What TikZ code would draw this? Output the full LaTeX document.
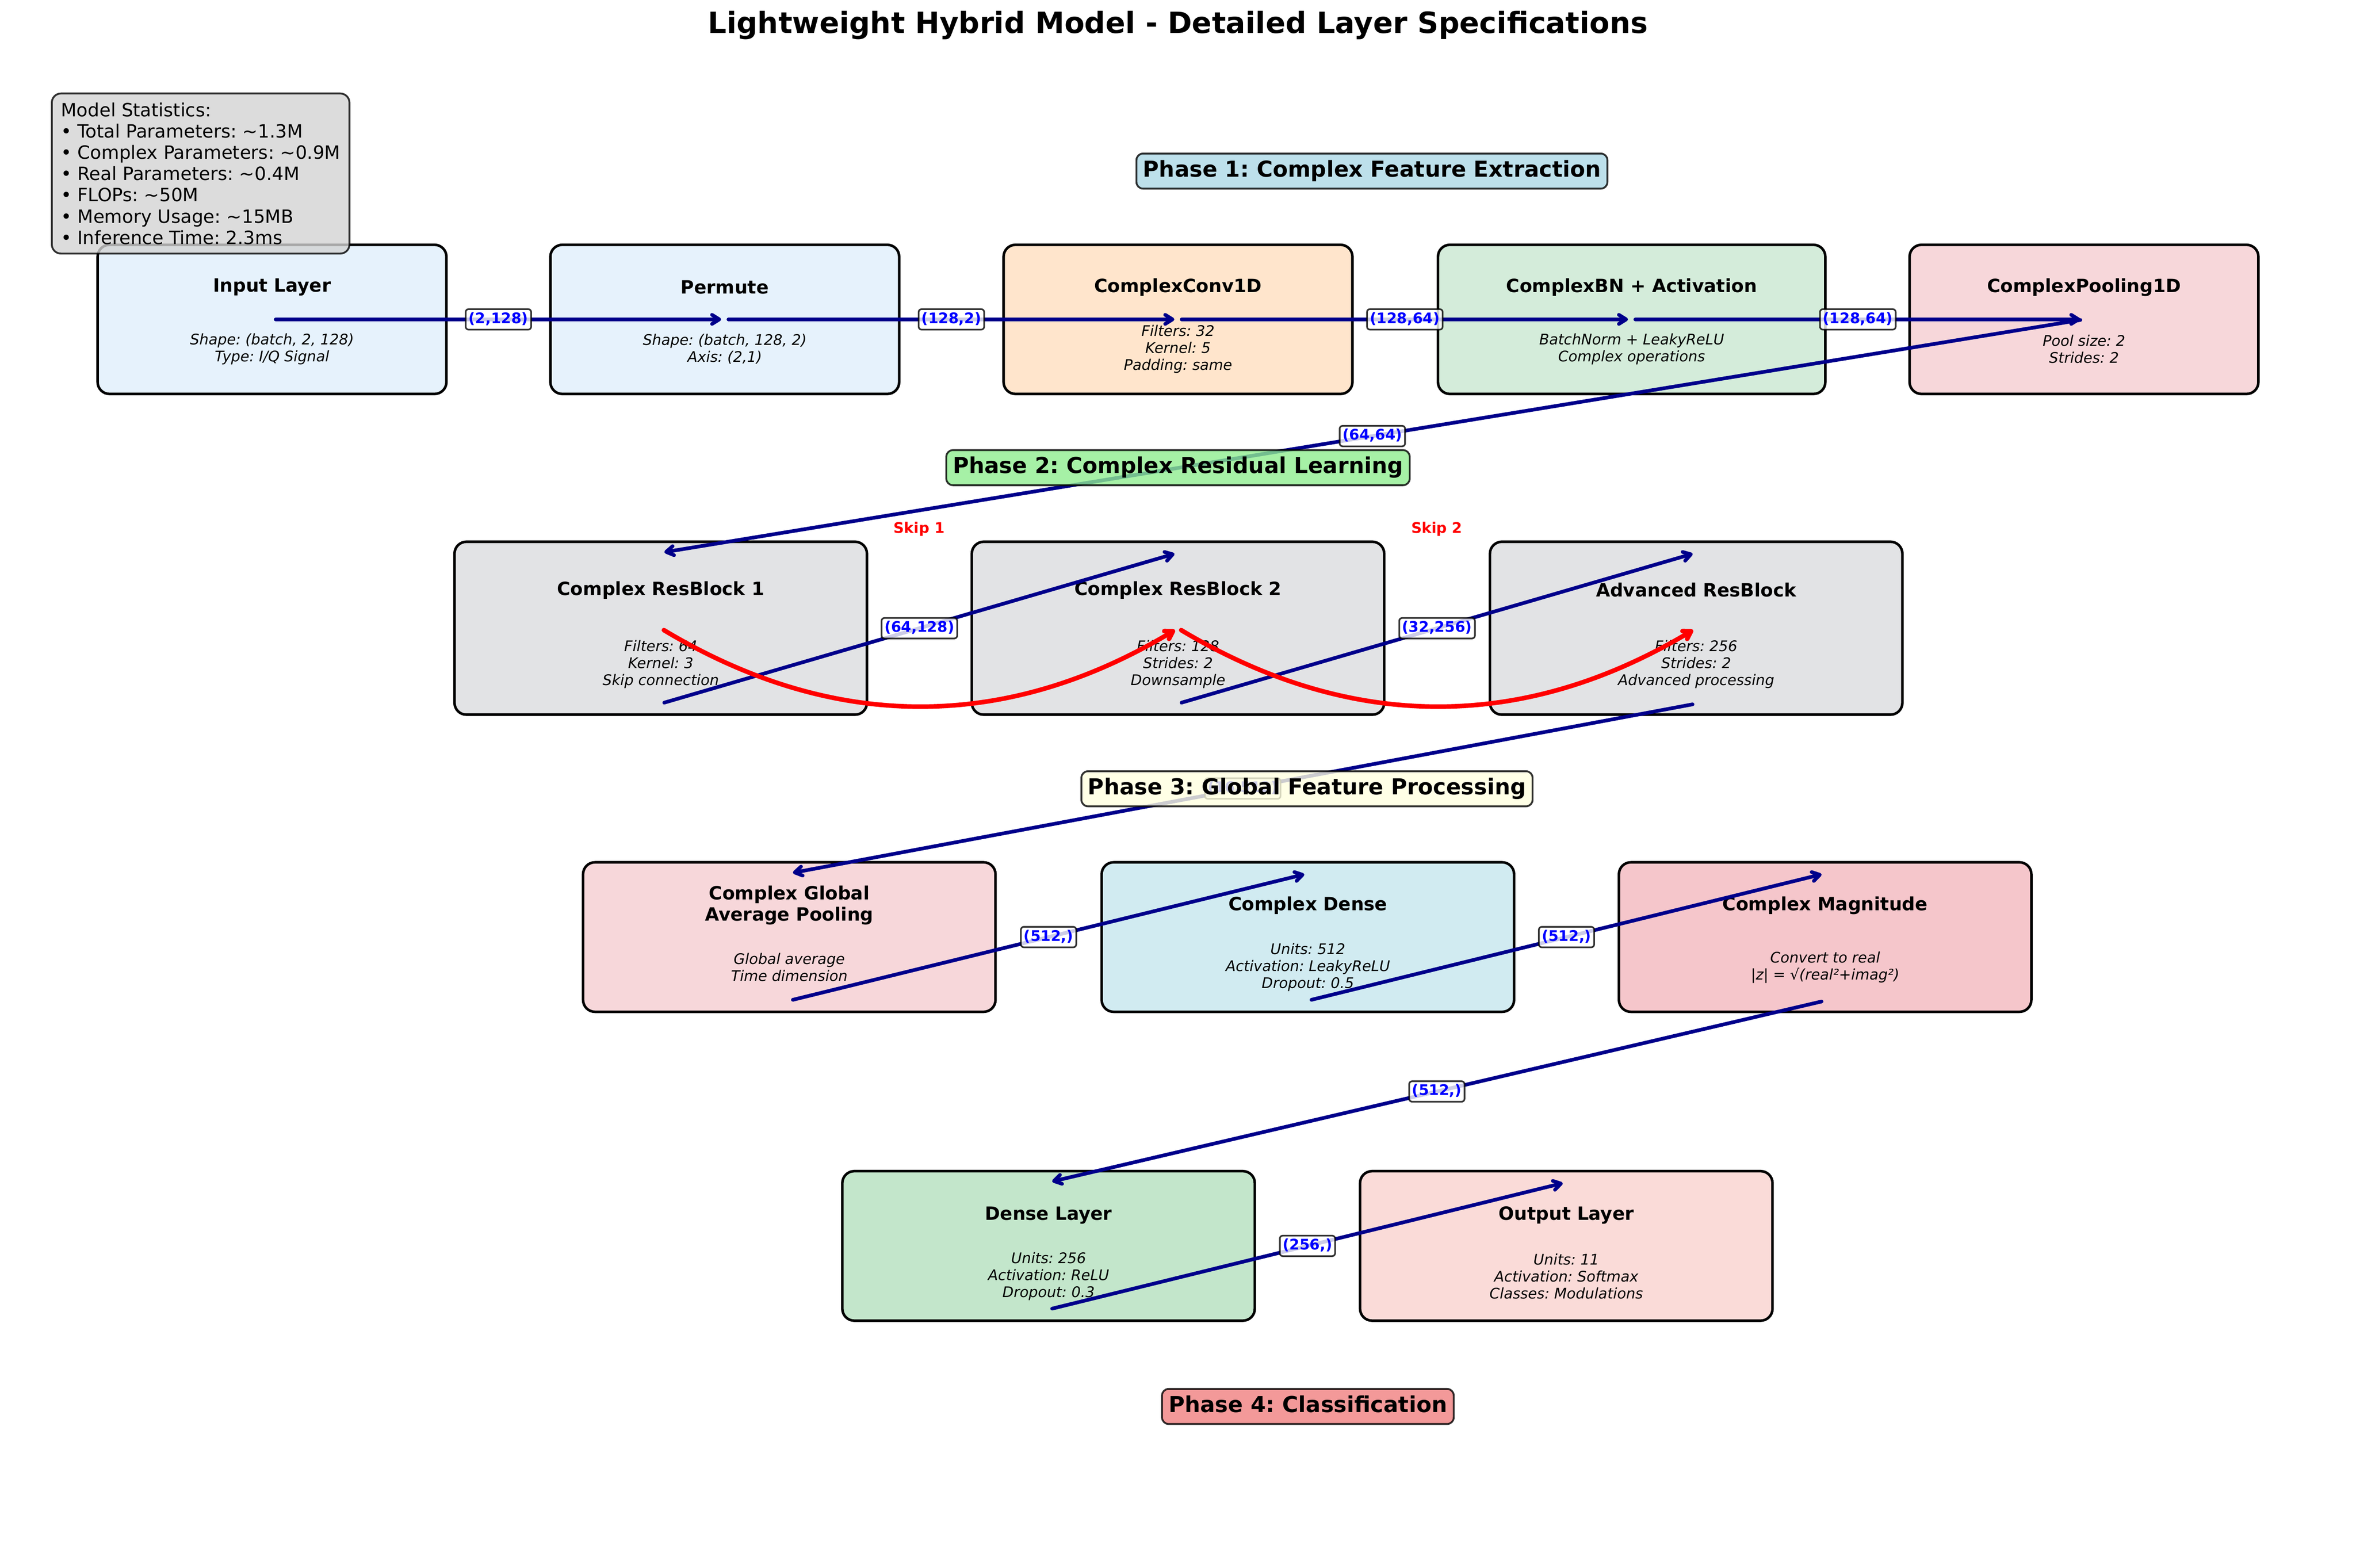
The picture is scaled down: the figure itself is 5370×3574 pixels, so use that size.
\documentclass[tikz,border=0pt]{standalone}
\usepackage{fontspec}
\setmainfont{DejaVu Sans}[BoldFont={DejaVu Sans Bold},ItalicFont={DejaVu Sans Oblique},BoldItalicFont={DejaVu Sans Bold Oblique}]
\usetikzlibrary{arrows.meta,calc}
\definecolor{edge_blue}{RGB}{0,0,139}
\definecolor{edge_red}{RGB}{255,0,0}
\definecolor{text_blue}{RGB}{0,0,255}
\definecolor{node_inp}{RGB}{230,242,252}
\definecolor{node_conv}{RGB}{255,229,204}
\definecolor{node_bn}{RGB}{212,236,218}
\definecolor{node_pink}{RGB}{247,215,218}
\definecolor{node_res}{RGB}{226,227,229}
\definecolor{node_cyan}{RGB}{209,235,241}
\definecolor{node_mag}{RGB}{245,198,203}
\definecolor{node_green}{RGB}{195,230,203}
\definecolor{node_out}{RGB}{250,219,216}
\definecolor{ph_one}{RGB}{173,216,230}
\definecolor{ph_two}{RGB}{144,238,144}
\definecolor{ph_three}{RGB}{255,255,224}
\definecolor{ph_four}{RGB}{240,128,128}
\definecolor{node_stat}{RGB}{211,211,211}

\begin{document}
\frenchspacing
\begin{tikzpicture}[x=0.24bp,y=-0.24bp,>={Straight Barb[length=4bp,width=5bp,line cap=round,line join=round]}]
    \tikzstyle{blk}=[draw=black,line width=1.4bp,rounded corners=6.5bp,minimum width=190.8bp,minimum height=81.6bp,inner sep=0pt]
    \tikzstyle{wide}=[style=blk,minimum width=225.6bp,minimum height=81.8bp]
    \tikzstyle{ttl}=[font=\fontsize{10bp}{11.6bp}\selectfont\bfseries,align=center,inner sep=0pt]
    \tikzstyle{det}=[font=\fontsize{8bp}{9.25bp}\selectfont\itshape,align=center,inner sep=0pt]
    \tikzstyle{flow}=[->,draw=edge_blue,line width=2bp,line cap=round,shorten <=2bp,shorten >=2bp]
    \tikzstyle{skiparc}=[->,draw=edge_red,line width=2.5bp,line cap=round,shorten <=2bp,shorten >=2bp]
    \tikzstyle{lbl}=[fill=white,fill opacity=0.8,draw=black,draw opacity=0.8,text opacity=1,text=text_blue,line width=0.9bp,rounded corners=1.6bp,inner sep=1.6bp,text height=6.1bp,text depth=1.9bp,font=\fontsize{8bp}{9.6bp}\selectfont\bfseries]
    \tikzstyle{ph}=[draw=black,draw opacity=0.8,fill opacity=0.8,text opacity=1,line width=1bp,rounded corners=3.6bp,inner sep=3.6bp,text height=9.1bp,text depth=2.9bp,font=\fontsize{12bp}{14bp}\selectfont\bfseries]

    \useasboundingbox (0,0) rectangle (5370,3574);

    % phase 1 row
    \node[blk,fill=node_inp] (inp) at (620,728) {};
    \node[blk,fill=node_inp] (perm) at (1652,728) {};
    \node[blk,fill=node_conv] (conv) at (2685,728) {};
    \node[blk,fill=node_bn,minimum width=211.9bp] (cbn) at (3719,728) {};
    \node[blk,fill=node_pink] (pool) at (4750,728) {};
    \node[ttl] (inp_t) at (620,655) {Input Layer};
    \node[det] (inp_d) at (620,796) {Shape: (batch, 2, 128)\\Type: I/Q Signal};
    \node[ttl] (perm_t) at (1652,655) {Permute};
    \node[det] (perm_d) at (1652,796) {Shape: (batch, 128, 2)\\Axis: (2,1)};
    \node[ttl] (conv_t) at (2685,655) {ComplexConv1D};
    \node[det] (conv_d) at (2685,796) {Filters: 32\\Kernel: 5\\Padding: same};
    \node[ttl] (cbn_t) at (3719,655) {ComplexBN + Activation};
    \node[det] (cbn_d) at (3719,796) {BatchNorm + LeakyReLU\\Complex operations};
    \node[ttl] (pool_t) at (4750,655) {ComplexPooling1D};
    \node[det] (pool_d) at (4750,796) {Pool size: 2\\Strides: 2};

    % phase 2 row
    \node[wide,fill=node_res,minimum height=94.6bp] (rb1) at (1506,1432) {};
    \node[wide,fill=node_res,minimum height=94.6bp] (rb2) at (2685,1432) {};
    \node[wide,fill=node_res,minimum height=94.6bp] (adv) at (3866,1432) {};
    \node[ttl] (rb1_t) at (1506,1345) {Complex ResBlock 1};
    \node[det] (rb1_d) at (1506,1514) {Filters: 64\\Kernel: 3\\Skip connection};
    \node[ttl] (rb2_t) at (2685,1345) {Complex ResBlock 2};
    \node[det] (rb2_d) at (2685,1514) {Filters: 128\\Strides: 2\\Downsample};
    \node[ttl] (adv_t) at (3866,1345) {Advanced ResBlock};
    \node[det] (adv_d) at (3866,1514) {Filters: 256\\Strides: 2\\Advanced processing};

    % phase 3 row
    \node[wide,fill=node_pink] (cgap) at (1799,2136) {};
    \node[wide,fill=node_cyan] (cden) at (2981,2136) {};
    \node[wide,fill=node_mag] (mag) at (4160,2136) {};
    \node[ttl] (cgap_t) at (1799,2064) {Complex Global\\Average Pooling};
    \node[det] (cgap_d) at (1799,2205) {Global average\\Time dimension};
    \node[ttl] (cden_t) at (2981,2064) {Complex Dense};
    \node[det] (cden_d) at (2981,2205) {Units: 512\\Activation: LeakyReLU\\Dropout: 0.5};
    \node[ttl] (mag_t) at (4160,2064) {Complex Magnitude};
    \node[det] (mag_d) at (4160,2205) {Convert to real\\|z| = √(real²+imag²)};

    % phase 4 row
    \node[wide,fill=node_green] (dns) at (2390,2840) {};
    \node[wide,fill=node_out] (outl) at (3570,2840) {};
    \node[ttl] (dns_t) at (2390,2770) {Dense Layer};
    \node[det] (dns_d) at (2390,2909) {Units: 256\\Activation: ReLU\\Dropout: 0.3};
    \node[ttl] (outl_t) at (3570,2770) {Output Layer};
    \node[det] (outl_d) at (3570,2909) {Units: 11\\Activation: Softmax\\Classes: Modulations};

    \path
     (inp.center) edge[flow] node[lbl,midway] (l1) {(2,128)} (perm.center)
     (perm.center) edge[flow] node[lbl,midway] (l2) {(128,2)} (conv.center)
     (conv.center) edge[flow] node[lbl,midway] (l3) {(128,64)} (cbn.center)
     (cbn.center) edge[flow] node[lbl,midway] (l4) {(128,64)} (pool.center)
     (pool.center) edge[flow] node[lbl,midway] (l5) {(64,64)} ($(rb1.center)+(0,-172)$)
     ($(rb1.center)+(0,172)$) edge[flow] node[lbl,midway] (l6) {(64,128)} ($(rb2.center)+(0,-172)$)
     ($(rb2.center)+(0,172)$) edge[flow] node[lbl,midway] (l7) {(32,256)} ($(adv.center)+(0,-172)$)
     ($(adv.center)+(0,172)$) edge[flow] node[lbl,midway] (l8) {(16,512)} ($(cgap.center)+(0,-145)$)
     ($(cgap.center)+(0,145)$) edge[flow] node[lbl,midway] (l9) {(512,)} ($(cden.center)+(0,-145)$)
     ($(cden.center)+(0,145)$) edge[flow] node[lbl,midway] (l10) {(512,)} ($(mag.center)+(0,-145)$)
     ($(mag.center)+(0,145)$) edge[flow] node[lbl,midway] (l11) {(512,)} ($(dns.center)+(0,-145)$)
     ($(dns.center)+(0,145)$) edge[flow] node[lbl,midway] (l12) {(256,)} ($(outl.center)+(0,-145)$)
     ;

    % skip connections
    \draw[skiparc] (rb1.center) .. controls ($(rb1.center)+(393,236)$) and ($(rb2.center)+(-393,236)$) .. (rb2.center);
    \draw[skiparc] (rb2.center) .. controls ($(rb2.center)+(394,236)$) and ($(adv.center)+(-394,236)$) .. (adv.center);
    \node[text=edge_red,font=\fontsize{8bp}{9.6bp}\selectfont\bfseries] (sk1) at (2095,1206) {Skip 1};
    \node[text=edge_red,font=\fontsize{8bp}{9.6bp}\selectfont\bfseries] (sk2) at (3275,1206) {Skip 2};

    % phase labels
    \node[ph,fill=ph_one] (ph1) at (3127,390) {Phase 1: Complex Feature Extraction};
    \node[ph,fill=ph_two] (ph2) at (2685,1066) {Phase 2: Complex Residual Learning};
    \node[ph,fill=ph_three] (ph3) at (2979,1798) {Phase 3: Global Feature Processing};
    \node[ph,fill=ph_four] (ph4) at (2981,3206) {Phase 4: Classification};

    \node[anchor=north west,align=left,fill=node_stat,fill opacity=0.8,draw=black,draw opacity=0.8,text opacity=1,line width=1bp,rounded corners=5bp,inner sep=5bp,font=\fontsize{10bp}{11.64bp}\selectfont] (stats) at (116,211)
     {Model Statistics:\\• Total Parameters: \textasciitilde1.3M\\• Complex Parameters: \textasciitilde0.9M\\• Real Parameters: \textasciitilde0.4M\\• FLOPs: \textasciitilde50M\\• Memory Usage: \textasciitilde15MB\\• Inference Time: 2.3ms};

    \node[font=\fontsize{16bp}{19bp}\selectfont\bfseries] (title) at (2685,58) {Lightweight Hybrid Model - Detailed Layer Specifications};
\end{tikzpicture}
\end{document}
